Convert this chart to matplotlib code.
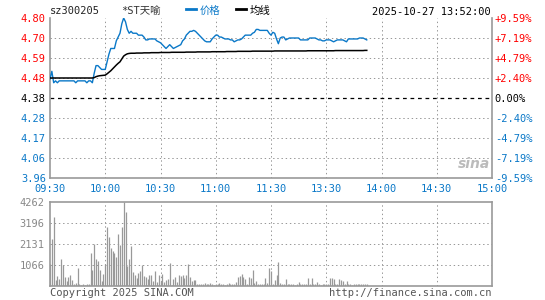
import matplotlib
matplotlib.use('Agg')
import matplotlib.pyplot as plt

# --- data ---
prev_close = 4.38
price_ticks = [4.80, 4.695, 4.59, 4.485, 4.38, 4.275, 4.17, 4.065, 3.96]
price_labels = ['4.80', '4.70', '4.59', '4.48', '4.38', '4.28', '4.17', '4.06', '3.96']
pct_labels = ['+9.59%', '+7.19%', '+4.79%', '+2.40%', '0.00%', '-2.40%', '-4.79%', '-7.19%', '-9.59%']
time_pos = [0, 30, 60, 90, 120, 150, 180, 210, 240]
time_labels = ['09:30', '10:00', '10:30', '11:00', '11:30', '13:30', '14:00', '14:30', '15:00']
vol_ticks = [1066, 2131, 3196, 4262]

price = [
    4.48, 4.52, 4.46, 4.47, 4.46, 4.47, 4.47, 4.47, 4.47, 4.47,
    4.47, 4.47, 4.47, 4.47, 4.46, 4.47, 4.47, 4.47, 4.47, 4.47,
    4.46, 4.47, 4.47, 4.46, 4.51, 4.55, 4.55, 4.54, 4.53, 4.53,
    4.53, 4.57, 4.61, 4.64, 4.64, 4.64, 4.68, 4.70, 4.72, 4.77,
    4.80, 4.78, 4.74, 4.72, 4.73, 4.72, 4.72, 4.72, 4.71, 4.71,
    4.71, 4.70, 4.685, 4.685, 4.69, 4.69, 4.69, 4.69, 4.68, 4.675,
    4.67, 4.66, 4.65, 4.64, 4.65, 4.66, 4.65, 4.64, 4.645, 4.65,
    4.655, 4.66, 4.68, 4.69, 4.71, 4.72, 4.73, 4.73, 4.735, 4.73,
    4.72, 4.71, 4.70, 4.69, 4.68, 4.675, 4.675, 4.675, 4.69, 4.70,
    4.71, 4.71, 4.70, 4.70, 4.695, 4.69, 4.69, 4.69, 4.685, 4.685,
    4.675, 4.68, 4.685, 4.685, 4.69, 4.70, 4.71, 4.71, 4.71, 4.71,
    4.72, 4.725, 4.74, 4.74, 4.735, 4.735, 4.735, 4.735, 4.735, 4.72,
    4.71, 4.725, 4.72, 4.69, 4.665, 4.695, 4.70, 4.70, 4.685, 4.69,
    4.695, 4.695, 4.695, 4.695, 4.695, 4.695, 4.685, 4.685, 4.685, 4.685,
    4.685, 4.695, 4.695, 4.695, 4.695, 4.69, 4.685, 4.685, 4.68, 4.68,
    4.685, 4.685, 4.685, 4.68, 4.675, 4.68, 4.685, 4.685, 4.685, 4.685,
    4.68, 4.675, 4.69, 4.69, 4.69, 4.69, 4.69, 4.69, 4.695, 4.695,
    4.695, 4.69, 4.685,
]

avg = [
    4.485, 4.485, 4.485, 4.485, 4.485, 4.485, 4.485, 4.485, 4.485, 4.485,
    4.485, 4.485, 4.485, 4.485, 4.485, 4.485, 4.485, 4.485, 4.485, 4.485,
    4.485, 4.485, 4.485, 4.485, 4.487, 4.492, 4.495, 4.497, 4.498, 4.499,
    4.500, 4.507, 4.515, 4.523, 4.533, 4.543, 4.553, 4.562, 4.570, 4.585,
    4.600, 4.607, 4.612, 4.614, 4.615, 4.615, 4.615, 4.616, 4.616, 4.616,
    4.616, 4.617, 4.617, 4.617, 4.617, 4.618, 4.618, 4.618, 4.618, 4.618,
    4.619, 4.619, 4.619, 4.619, 4.619, 4.619, 4.620, 4.620, 4.620, 4.620,
    4.620, 4.620, 4.620, 4.620, 4.621, 4.621, 4.621, 4.621, 4.621, 4.621,
    4.622, 4.622, 4.622, 4.622, 4.622, 4.622, 4.622, 4.622, 4.623, 4.623,
    4.623, 4.623, 4.623, 4.623, 4.623, 4.623, 4.624, 4.624, 4.624, 4.624,
    4.624, 4.624, 4.625, 4.625, 4.625, 4.625, 4.625, 4.625, 4.625, 4.625,
    4.626, 4.626, 4.626, 4.626, 4.626, 4.626, 4.626, 4.626, 4.626, 4.626,
    4.626, 4.626, 4.627, 4.627, 4.627, 4.627, 4.627, 4.627, 4.627, 4.627,
    4.627, 4.627, 4.627, 4.627, 4.627, 4.627, 4.627, 4.627, 4.627, 4.627,
    4.628, 4.628, 4.628, 4.628, 4.628, 4.628, 4.628, 4.628, 4.628, 4.628,
    4.628, 4.628, 4.628, 4.628, 4.628, 4.629, 4.629, 4.629, 4.629, 4.629,
    4.629, 4.629, 4.629, 4.629, 4.629, 4.629, 4.629, 4.629, 4.629, 4.629,
    4.629, 4.630, 4.630,
]

volume = [
    1100, 2380, 3500, 300, 500, 340, 1370, 1060, 470, 250,
    440, 560, 300, 100, 150, 930, 120, 70, 120, 70,
    120, 100, 1690, 830, 2130, 1390, 1250, 830, 270, 600,
    1130, 2980, 2480, 1920, 1760, 1650, 1480, 2650, 2090, 3000,
    4262, 3750, 1000, 1380, 2020, 720, 575, 420, 680, 780,
    1080, 510, 440, 370, 575, 575, 240, 780, 200, 575,
    250, 630, 200, 300, 370, 1180, 70, 370, 440, 200,
    575, 510, 575, 400, 575, 1110, 470, 240, 300, 300,
    120, 120, 120, 100, 150, 80, 120, 150, 100, 60,
    120, 80, 150, 100, 120, 60, 100, 150, 80, 120,
    100, 200, 440, 520, 600, 440, 375, 120, 440, 400,
    800, 150, 250, 100, 80, 120, 100, 400, 150, 890,
    760, 120, 300, 560, 1230, 150, 100, 120, 340, 100,
    80, 120, 100, 60, 120, 200, 80, 100, 120, 80,
    390, 100, 390, 120, 80, 200, 100, 60, 120, 80,
    100, 120, 390, 390, 340, 100, 80, 340, 280, 250,
    100, 250, 80, 120, 60, 100, 120, 100, 100, 120,
    100, 120, 100,
]
minutes = list(range(len(price)))

BLUE = '#0a78c8'
RED = '#ff0000'
GRID = '#999999'
FRAME = '#999999'
DOT = (0, (1.4, 2.8))
mono = ['DejaVu Sans Mono', 'Noto Sans CJK SC']
plt.rcParams['font.family'] = mono
plt.rcParams['font.size'] = 7

W, H = 545, 300
fig = plt.figure(figsize=(W / 100, H / 100), dpi=100)


def box(l, t, r, b):
    return [l / W, 1 - b / H, (r - l) / W, (b - t) / H]


def label_color(y):
    if y > prev_close:
        return RED
    if y == prev_close:
        return 'black'
    return BLUE


# price panel
ax = fig.add_axes(box(50, 18, 492, 178))
ax.xaxis.remove_overlapping_locs = False
ax.yaxis.remove_overlapping_locs = False
ax.set_xlim(0, 240)
ax.set_ylim(3.96, 4.80)
ax.plot(minutes, price, color=BLUE, lw=1.0, zorder=3)
ax.plot(minutes, avg, color='black', lw=1.1, zorder=3)
ax.set_yticks(price_ticks)
ax.set_yticklabels(price_labels)
ax.set_yticks([y for y in price_ticks[1:-1] if y != prev_close], minor=True)
ax.tick_params(axis='y', which='both', length=0, pad=3, labelsize=7.5)
for lab, y in zip(ax.get_yticklabels(), price_ticks):
    lab.set_color(label_color(y))
ax.set_xticks(time_pos)
ax.set_xticklabels(time_labels)
ax.set_xticks(time_pos[1:-1], minor=True)
ax.tick_params(axis='x', which='both', length=0, pad=4, labelsize=7.5, colors=BLUE)
ax.grid(True, which='minor', color=GRID, lw=0.72, ls=DOT)
ax.grid(False, which='major')
ax.axhline(prev_close, color='black', lw=0.9, ls=(0, (3, 3)), zorder=2)
ax.set_axisbelow(True)
for s in ax.spines.values():
    s.set_color(FRAME)
    s.set_linewidth(1.2)
ax.spines['top'].set_visible(False)

ax2 = ax.twinx()
ax2.set_ylim(3.96, 4.80)
ax2.set_yticks(price_ticks)
ax2.set_yticklabels(pct_labels)
ax2.tick_params(axis='y', length=0, pad=2, labelsize=7.5)
for lab, y in zip(ax2.get_yticklabels(), price_ticks):
    lab.set_color(label_color(y))
for s in ax2.spines.values():
    s.set_visible(False)

# volume panel
axv = fig.add_axes(box(50, 202, 492, 286))
axv.xaxis.remove_overlapping_locs = False
axv.yaxis.remove_overlapping_locs = False
axv.set_xlim(0, 240)
axv.set_ylim(0, 4262)
axv.vlines(minutes, 0, volume, color='#999999', lw=0.9, zorder=3)
axv.set_yticks(vol_ticks)
axv.set_yticklabels([str(v) for v in vol_ticks])
axv.set_yticks(vol_ticks[:-1], minor=True)
axv.tick_params(axis='y', which='both', length=0, pad=4, labelsize=7.5, colors='#888888')
axv.set_xticks(time_pos[1:-1], minor=True)
axv.set_xticks([])
axv.tick_params(axis='x', which='both', length=0, labelbottom=False)
axv.grid(True, which='minor', color=GRID, lw=0.72, ls=DOT)
axv.grid(False, which='major')
axv.set_axisbelow(True)
for s in axv.spines.values():
    s.set_color(FRAME)
    s.set_linewidth(1.2)

# header
fig.text(50 / W, 1 - 11 / H, 'sz300205', ha='left', va='center', fontsize=7.5, color='#222222')
fig.text(121 / W, 1 - 11 / H, '*ST天喻', ha='left', va='center', fontsize=7.5, color='#333333', family=mono)
fig.add_artist(plt.Line2D([186 / W, 196 / W], [1 - 9 / H, 1 - 9 / H], color=BLUE, lw=2))
fig.text(200 / W, 1 - 11 / H, '价格', ha='left', va='center', fontsize=7.5, color=BLUE,
         family=['Noto Sans CJK SC', 'DejaVu Sans'])
fig.add_artist(plt.Line2D([236 / W, 246 / W], [1 - 9 / H, 1 - 9 / H], color='black', lw=2))
fig.text(250 / W, 1 - 11 / H, '均线', ha='left', va='center', fontsize=7.5, color='black',
         family=['Noto Sans CJK SC', 'DejaVu Sans'])
fig.text(491 / W, 1 - 12 / H, '2025-10-27 13:52:00', ha='right', va='center', fontsize=7.5, color='black')

# watermark
fig.text(474 / W, 1 - 164 / H, 'sina', ha='center', va='center', fontsize=10,
         color='#bbbbbb', style='italic', weight='bold', family='DejaVu Sans')

# footer
fig.text(50 / W, 1 - 293 / H, 'Copyright 2025 SINA.COM', ha='left', va='center', fontsize=7.5, color='#555555')
fig.text(491 / W, 1 - 293 / H, 'http://finance.sina.com.cn', ha='right', va='center', fontsize=7.5, color='#555555')

fig.savefig('out.png', dpi=100, facecolor='white')
